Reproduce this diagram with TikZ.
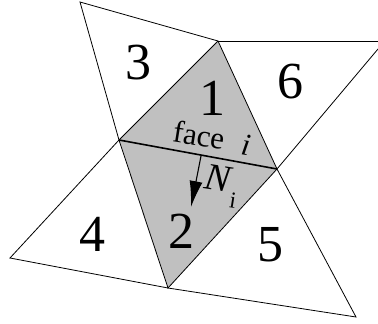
\documentclass[tikz,border=0pt]{standalone}
\usepackage{fontspec}
\setmainfont{Liberation Serif}
\usepackage{tikz}
\usetikzlibrary{arrows.meta,positioning,calc}
\definecolor{facegray}{RGB}{192,192,192}
\tikzset{
  edge/.style={draw=black,line width=0.8pt},
  edgebold/.style={draw=black,line width=1.6pt},
  normal/.style={-{Latex[length=26pt,width=13pt]},draw=black,line width=1.1pt},
  facenum/.style={inner sep=0pt,font=\fontsize{52}{52}\selectfont},
  facelabel/.style={inner sep=0pt,font=\fontsize{31}{31}\selectfont,rotate=-9},
  normlabel/.style={inner sep=0pt,font=\fontsize{38}{38}\selectfont\itshape,rotate=-9},
  sublabel/.style={inner sep=0pt,font=\fontsize{23}{23}\selectfont,rotate=-9},
}
\begin{document}
\begin{tikzpicture}[x=1pt,y=-1pt]
\useasboundingbox (0,0) rectangle (378,324);
% mesh vertices
\coordinate (T) at (218,41);
\coordinate (L) at (119,140);
\coordinate (R) at (277,169);
\coordinate (B) at (168,288);
\coordinate (P3) at (80,2);
\coordinate (P6a) at (378,41);
\coordinate (P6b) at (378,49);
\coordinate (P4) at (10,258);
\coordinate (P5) at (356,317);

% shaded pair
\fill[facegray] (T) -- (L) -- (B) -- (R) -- cycle;

\draw[edge] (L) -- (P3) -- (T);
\draw[edge] (T) -- (P6a);
\draw[edge] (P6b) -- (R);
\draw[edge] (L) -- (P4) -- (B);
\draw[edge] (B) -- (P5) -- (R);
\draw[edge] (T) -- (L) -- (B) -- (R) -- cycle;
% shared face
\draw[edgebold] (L) -- (R);

\coordinate (N0) at (201,156);
\coordinate (N1) at (191,207);
\draw[normal] (N0) -- (N1);

\node[facenum] (n1) at (212,98) {1};
\node[facenum] (n2) at (181,231) {2};
\node[facenum] (n3) at (138,63) {3};
\node[facenum] (n4) at (92,234) {4};
\node[facenum] (n5) at (270,245) {5};
\node[facenum] (n6) at (290,82) {6};

\node[facelabel] (face) at (199,135) {face};
\node[facelabel] (facei) at (246,145) {\itshape i};
\node[normlabel] (nlabel) at (218,178) {N};
\node[sublabel] (nsub) at (233,200) {i};
\end{tikzpicture}
\end{document}
